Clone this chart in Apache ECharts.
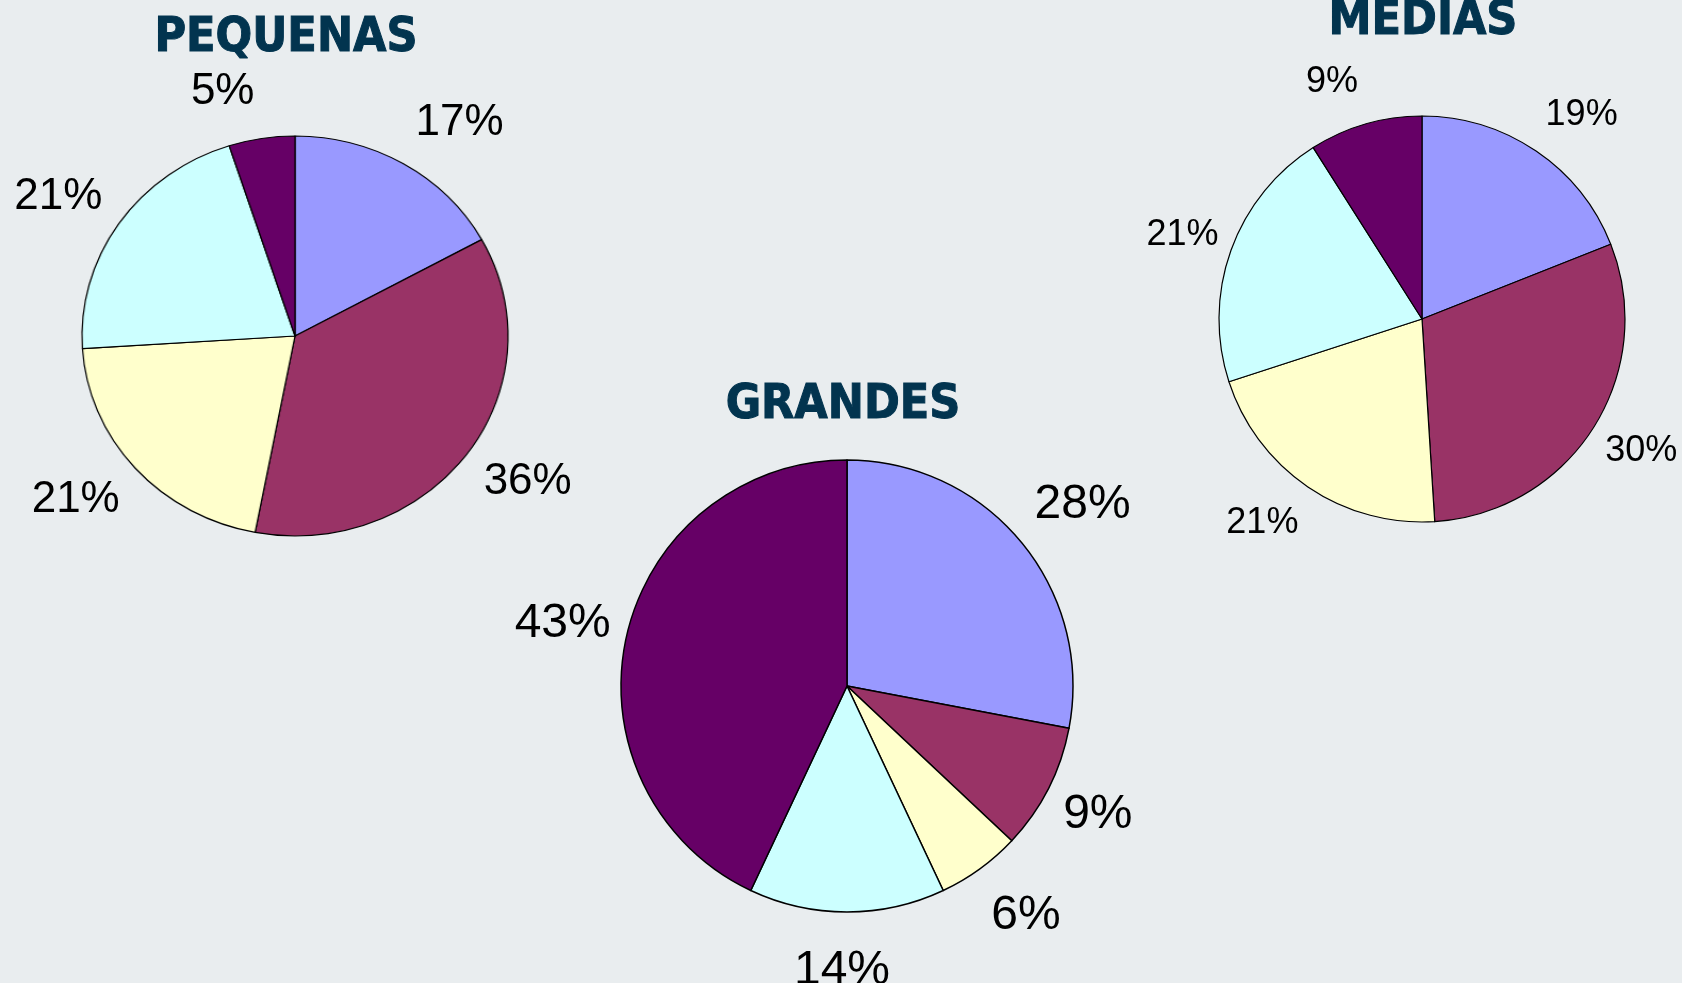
<!DOCTYPE html>
<html>
<head>
<meta charset="utf-8">
<script src="https://cdn.jsdelivr.net/npm/echarts@6/dist/echarts.min.js"></script>
<style>
html,body{margin:0;padding:0;background:#e9edef;}
#wrap{position:relative;width:1682px;height:983px;}
#chart,#pqpie{position:absolute;left:0;top:0;width:1682px;height:983px;}
#pqpie{pointer-events:none;transform:scaleX(1.065);transform-origin:295px 336px;}
</style>
</head>
<body>
<div id="wrap">
  <div id="chart"></div>
  <div id="pqpie"></div>
</div>
<script>
// Data
var categories = ['Cat 1', 'Cat 2', 'Cat 3', 'Cat 4', 'Cat 5'];
var pequenas = [17, 36, 21, 21, 5];
var medias = [19, 30, 21, 21, 9];
var grandes = [28, 9, 6, 14, 43];
var titles = ['PEQUENAS', 'MEDIAS', 'GRANDES'];

var colors = ['#9999ff', '#993366', '#ffffcc', '#ccffff', '#660066'];
var titleColor = '#02344f';

function toData(vals) {
  return vals.map(function (v, i) { return { name: categories[i], value: v }; });
}

// cfg: center, radius, label font size, label line length, vertical label spread factor, border width
function pieSeries(vals, cfg) {
  var cx = cfg.center[0], cy = cfg.center[1];
  return {
    type: 'pie',
    center: cfg.center,
    radius: cfg.radius,
    startAngle: 90,
    clockwise: true,
    avoidLabelOverlap: false,
    animation: false,
    silent: true,
    data: toData(vals),
    itemStyle: cfg.hideShapes
      ? { color: 'rgba(0,0,0,0)', borderWidth: 0 }
      : { borderColor: '#000', borderWidth: cfg.border },
    label: {
      show: !cfg.hideLabels,
      position: 'outside',
      formatter: '{c}%',
      color: '#000',
      fontFamily: '"Liberation Sans", Arial, sans-serif',
      fontSize: cfg.fontSize,
      distanceToLabelLine: 5
    },
    labelLine: { show: false, length: cfg.len, length2: 0 },
    labelLayout: function (p) {
      var r = p.labelRect;
      var ly = r.y + r.height / 2;
      var out = { dy: (ly - cy) * (cfg.spread - 1) };
      var anchor = p.align === 'right' ? r.x + r.width : (p.align === 'left' ? r.x : r.x + r.width / 2);
      if (Math.abs(anchor - cx) < 12) {
        out.dx = p.align === 'right' ? r.width / 2 : (p.align === 'left' ? -r.width / 2 : 0);
      }
      return out;
    },
    emphasis: { disabled: true }
  };
}

var chart = echarts.init(document.getElementById('chart'), null, { renderer: 'canvas' });
var pqChart = echarts.init(document.getElementById('pqpie'), null, { renderer: 'canvas' });

function titleText(text, x, y) {
  return {
    type: 'text',
    x: x, y: y,
    style: {
      text: text,
      fill: titleColor,
      stroke: titleColor,
      lineWidth: 1,
      font: 'bold 48px "DejaVu Sans Condensed", "DejaVu Sans", Verdana, sans-serif',
      textAlign: 'center', align: 'center',
      textVerticalAlign: 'middle', verticalAlign: 'middle'
    }
  };
}

var pqCfg = { center: [295, 336], radius: 206, fontSize: 44, len: 21, spread: 1.09, border: 1.2 };

chart.setOption({
  backgroundColor: '#e9edef',
  color: colors,
  graphic: [
    titleText(titles[0], 286, 39),
    titleText(titles[1], 1423, 22),
    titleText(titles[2], 843, 406)
  ],
  series: [
    pieSeries(pequenas, Object.assign({}, pqCfg, { hideShapes: true })),
    pieSeries(medias, { center: [1422, 319], radius: 203, fontSize: 36, len: 8, spread: 1.17, border: 1.2 }),
    pieSeries(grandes, { center: [847, 686], radius: 226, fontSize: 48, len: 11, spread: 1.2, border: 1.5 })
  ]
});

// PEQUENAS pie is drawn slightly wider than tall, as in the original
pqChart.setOption({
  backgroundColor: 'transparent',
  color: colors,
  series: [
    pieSeries(pequenas, Object.assign({}, pqCfg, { radius: 200, hideLabels: true }))
  ]
});
</script>
</body>
</html>
